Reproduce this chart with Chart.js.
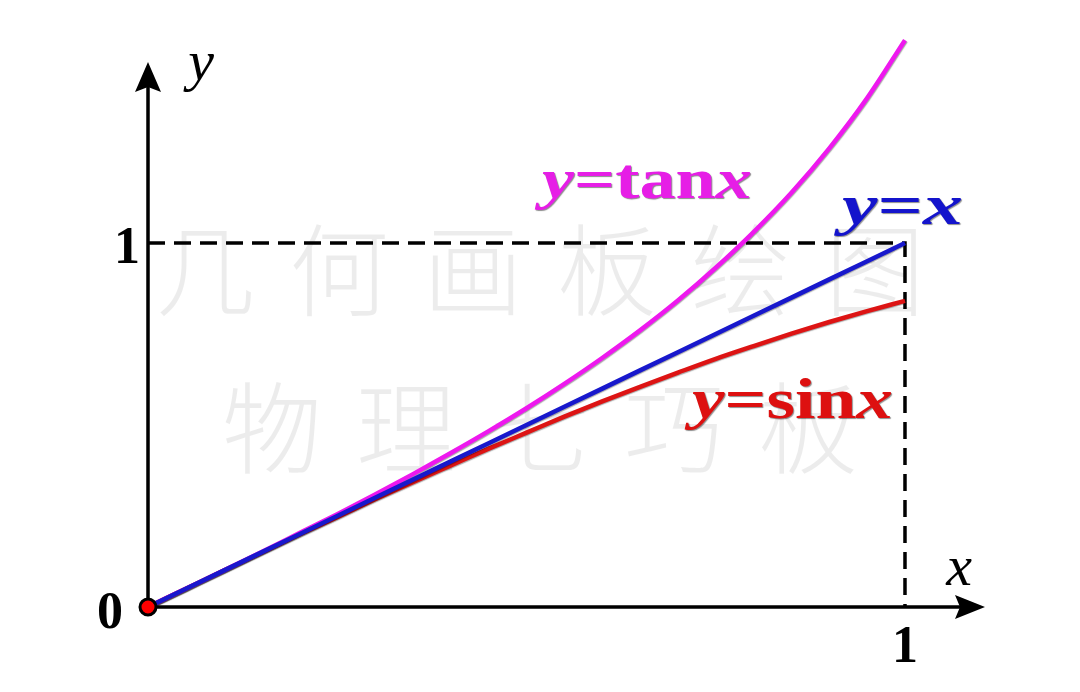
<!DOCTYPE html>
<html>
<head>
<meta charset="utf-8">
<script src="https://cdn.jsdelivr.net/npm/chart.js@4/dist/chart.umd.min.js"></script>
<style>
  body { margin: 0; background: #fff; }
  canvas { display: block; }
</style>
</head>
<body>
<canvas id="chart" width="1080" height="692"></canvas>
<script>
// =====================
// DATOS
// =====================
const xs      = [0, 0.05, 0.10, 0.15, 0.20, 0.25, 0.30, 0.35, 0.40, 0.45, 0.50, 0.55, 0.60, 0.65, 0.70, 0.75, 0.80, 0.85, 0.90, 0.95, 1.00];
const lineVals = [0, 0.05, 0.10, 0.15, 0.20, 0.25, 0.30, 0.35, 0.40, 0.45, 0.50, 0.55, 0.60, 0.65, 0.70, 0.75, 0.80, 0.85, 0.90, 0.95, 1.00];
const sinVals = [0, 0.050, 0.100, 0.149, 0.199, 0.247, 0.296, 0.343, 0.389, 0.435, 0.479, 0.523, 0.565, 0.605, 0.644, 0.682, 0.717, 0.751, 0.783, 0.813, 0.841];
const tanVals = [0, 0.050, 0.100, 0.151, 0.203, 0.255, 0.309, 0.365, 0.423, 0.483, 0.546, 0.613, 0.684, 0.760, 0.842, 0.932, 1.030, 1.138, 1.260, 1.398, 1.557];
const guideX  = [0, 1, 1];
const guideY  = [1, 1, 0];
const xTicks  = ["0", "1"];
const yTicks  = ["1"];
const watermark1 = ["几", "何", "画", "板", "绘", "图"];
const watermark2 = ["物", "理", "七", "巧", "板"];

const pts = (xv, yv) => xv.map((x, i) => ({ x: x, y: yv[i] }));

const SERIF = '"Liberation Serif", "Times New Roman", serif';

// texto tipo LaTeX: partes cursivas y rectas, estirado al ancho
function drawMath(ctx, parts, left, right, baseline, color, size) {
    const fontOf = p => (p.it ? "bold italic " : "bold ") + size + "px " + SERIF;
    let total = 0;
    parts.forEach(p => { ctx.font = fontOf(p); total += ctx.measureText(p.t).width; });
    const sx = (right - left) / total;
    ctx.save();
    ctx.translate(left, baseline);
    ctx.scale(sx, 1);
    ctx.fillStyle = color;
    ctx.shadowColor = "rgba(0,0,0,0.45)";
    ctx.shadowOffsetX = 1;
    ctx.shadowOffsetY = 1;
    ctx.shadowBlur = 1;
    ctx.textAlign = "left";
    ctx.textBaseline = "alphabetic";
    let cx = 0;
    parts.forEach(p => {
        ctx.font = fontOf(p);
        ctx.fillText(p.t, cx, 0);
        cx += ctx.measureText(p.t).width;
    });
    ctx.restore();
}

// =====================
// EJES, FLECHAS, MARCA DE AGUA
// =====================
const decor = {
    id: "decor",
    beforeDatasetsDraw(chart) {
        const ctx = chart.ctx;
        const X = chart.scales.x, Y = chart.scales.y;
        const ox = X.getPixelForValue(0), oy = Y.getPixelForValue(0);

        // marca de agua
        ctx.save();
        ctx.fillStyle = "rgba(0,0,0,0.075)";
        ctx.font = '300 100px "Noto Sans CJK SC"';
        ctx.textAlign = "center";
        ctx.textBaseline = "middle";
        watermark1.forEach((c, i) => ctx.fillText(c, 205 + i * 134, 270));
        watermark2.forEach((c, i) => ctx.fillText(c, 272 + i * 134, 428));
        ctx.restore();

        // ejes
        const yTip = Y.getPixelForValue(1.497);
        const xTip = X.getPixelForValue(X.max);
        ctx.save();
        ctx.strokeStyle = "#000";
        ctx.fillStyle = "#000";
        ctx.lineWidth = 3.5;
        ctx.beginPath();
        ctx.moveTo(ox, oy);
        ctx.lineTo(ox, yTip + 20);
        ctx.moveTo(ox, oy);
        ctx.lineTo(xTip - 20, oy);
        ctx.stroke();

        ctx.beginPath();
        ctx.moveTo(ox, yTip);
        ctx.lineTo(ox - 13, yTip + 30);
        ctx.lineTo(ox, yTip + 25);
        ctx.lineTo(ox + 13, yTip + 30);
        ctx.closePath();
        ctx.fill();

        ctx.beginPath();
        ctx.moveTo(xTip, oy);
        ctx.lineTo(xTip - 30, oy - 12);
        ctx.lineTo(xTip - 25, oy);
        ctx.lineTo(xTip - 30, oy + 12);
        ctx.closePath();
        ctx.fill();
        ctx.restore();
    },
    afterDatasetsDraw(chart) {
        const ctx = chart.ctx;
        const X = chart.scales.x, Y = chart.scales.y;
        const ox = X.getPixelForValue(0), oy = Y.getPixelForValue(0);

        ctx.save();
        ctx.fillStyle = "#000";
        ctx.font = "bold 52px " + SERIF;
        ctx.textBaseline = "alphabetic";
        ctx.textAlign = "center";
        ctx.fillText(xTicks[0], ox - 38, oy + 21);
        ctx.fillText(xTicks[1], X.getPixelForValue(1), oy + 55);
        ctx.textAlign = "right";
        ctx.fillText(yTicks[0], ox - 8, Y.getPixelForValue(1) + 20);

        ctx.font = "italic 58px " + SERIF;
        ctx.textAlign = "center";
        ctx.fillText("y", ox + 53, 80);
        ctx.fillText("x", 959, oy - 22);
        ctx.restore();

        const Y1 = { t: "y", it: true }, EQ = { t: "=", it: false }, X1 = { t: "x", it: true };
        drawMath(ctx, [Y1, EQ, { t: "tan", it: false }, X1], 542, 752, 198, "#e61ee6", 56);
        drawMath(ctx, [Y1, EQ, X1], 842, 963, 224, "#1414cc", 56);
        drawMath(ctx, [Y1, EQ, { t: "sin", it: false }, X1], 692, 893, 418, "#dd1010", 56);
    }
};

// =====================
// GRAFICO
// =====================
const curveShadow = {
    id: "curveShadow",
    beforeDatasetDraw(chart, args) {
        if (args.meta.dataset && args.index < 3) {
            chart.ctx.save();
            chart.ctx.shadowColor = "rgba(0,0,0,0.35)";
            chart.ctx.shadowOffsetX = 0.8;
            chart.ctx.shadowOffsetY = 0.8;
            chart.ctx.shadowBlur = 1;
        }
    },
    afterDatasetDraw(chart, args) {
        if (args.meta.dataset && args.index < 3) chart.ctx.restore();
    }
};

new Chart(document.getElementById("chart"), {
    type: "scatter",
    data: {
        datasets: [
            {
                label: "tan",
                data: pts(xs, tanVals),
                showLine: true,
                borderColor: "#ee18ee",
                borderWidth: 4.5,
                pointRadius: 0,
                cubicInterpolationMode: "monotone",
                clip: false,
                order: 3
            },
            {
                label: "x",
                data: pts(xs, lineVals),
                showLine: true,
                borderColor: "#1818cc",
                borderWidth: 4.5,
                pointRadius: 0,
                clip: false,
                order: 2
            },
            {
                label: "sin",
                data: pts(xs, sinVals),
                showLine: true,
                borderColor: "#dd1414",
                borderWidth: 4.5,
                pointRadius: 0,
                cubicInterpolationMode: "monotone",
                clip: false,
                order: 4
            },
            {
                label: "guia",
                data: pts(guideX, guideY),
                showLine: true,
                borderColor: "#000",
                borderWidth: 3.5,
                borderDash: [17, 9],
                pointRadius: 0,
                clip: false,
                order: 5
            },
            {
                label: "origen",
                data: [{ x: 0, y: 0 }],
                pointRadius: 8,
                pointBackgroundColor: "#ff0000",
                pointBorderColor: "#000",
                pointBorderWidth: 3,
                clip: false,
                order: 0
            }
        ]
    },
    options: {
        responsive: false,
        animation: false,
        events: [],
        layout: {
            padding: { left: 148, right: 95, top: 24.6, bottom: 85 }
        },
        plugins: {
            legend: { display: false },
            tooltip: { enabled: false }
        },
        scales: {
            x: { type: "linear", min: 0, max: 1.1057, display: false },
            y: { type: "linear", min: 0, max: 1.6, display: false }
        }
    },
    plugins: [decor, curveShadow]
});
</script>
</body>
</html>
